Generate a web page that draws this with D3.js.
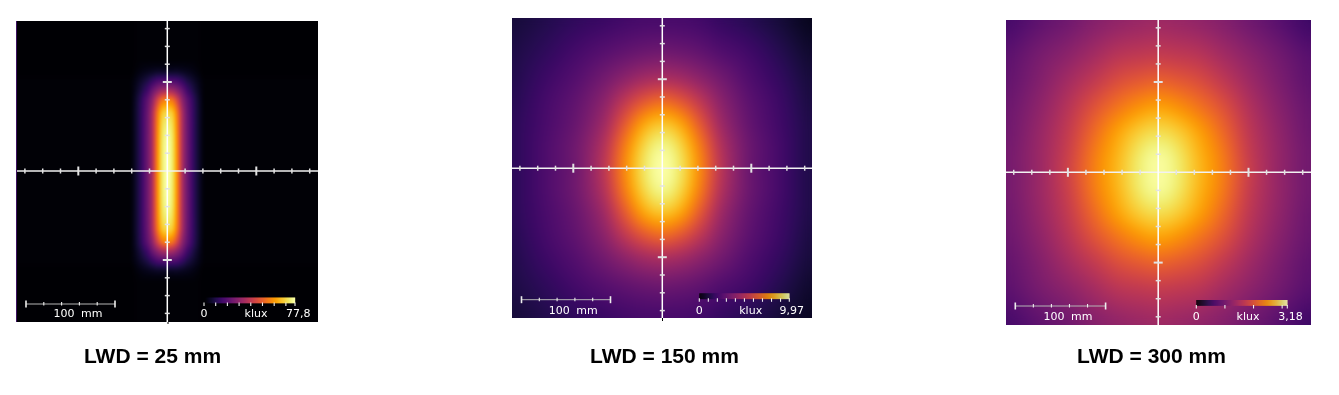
<!DOCTYPE html>
<html><head><meta charset="utf-8">
<script src="https://cdn.jsdelivr.net/npm/d3@7"></script>
<style>html,body{margin:0;padding:0;background:#fff;overflow:hidden}
#wrap{position:relative;width:1339px;height:395px}
canvas,svg{position:absolute;left:0;top:0}
</style></head><body><div id="wrap"><canvas id="c" width="1339" height="395"></canvas><svg id="s" width="1339" height="395"></svg></div>
<script>
// Illuminance maps, as a fraction of each panel's maximum.
const titles = ["LWD = 25 mm", "LWD = 150 mm", "LWD = 300 mm"];
const maxLabels = ["77,8", "9,97", "3,18"];
const maxKlux = [77.8, 9.97, 3.18];
const legendSteps = [10, 1, 1];
const axisTicksMm = [-160,-140,-120,-100,-80,-60,-40,-20,0,20,40,60,80,100,120,140,160];
const majorTicksMm = [-100,100];

const lwd25X = [-42,-31,-22,-17,-11,-6,0,6,11,17,22,31,42];
const lwd25Y = [-125,-112,-100,-90,-80,-65,-40,0,40,65,80,90,100,112,125];
const lwd25 = [
 [0,.01,.01,.01,.01,.01,.01,.01,.01,.01,.01,.01,0],
 [0,.03,.05,.06,.07,.07,.07,.07,.07,.06,.05,.03,0],
 [.01,.07,.13,.18,.23,.25,.26,.25,.23,.18,.13,.07,.01],
 [.01,.1,.2,.29,.38,.44,.46,.44,.38,.29,.2,.1,.01],
 [.01,.13,.27,.38,.56,.68,.72,.68,.56,.38,.27,.13,.01],
 [.01,.14,.3,.45,.7,.86,.9,.86,.7,.45,.3,.14,.01],
 [.01,.14,.31,.46,.74,.92,.98,.92,.74,.46,.31,.14,.01],
 [.01,.14,.31,.46,.75,.93,1,.93,.75,.46,.31,.14,.01],
 [.01,.14,.31,.46,.74,.92,.98,.92,.74,.46,.31,.14,.01],
 [.01,.14,.3,.45,.7,.86,.9,.86,.7,.45,.3,.14,.01],
 [.01,.13,.27,.38,.56,.68,.72,.68,.56,.38,.27,.13,.01],
 [.01,.1,.2,.29,.38,.44,.46,.44,.38,.29,.2,.1,.01],
 [.01,.07,.13,.18,.23,.25,.26,.25,.23,.18,.13,.07,.01],
 [0,.03,.05,.06,.07,.07,.07,.07,.07,.06,.05,.03,0],
 [0,.01,.01,.01,.01,.01,.01,.01,.01,.01,.01,.01,0]
];

const lwd150X = [-169,-130,-95,-65,-40,-20,0,20,40,65,95,130,169];
const lwd150Y = [-169,-130,-100,-75,-50,-25,0,25,50,75,100,130,169];
const lwd150 = [
 [.1,.13,.16,.18,.2,.21,.21,.21,.2,.17,.14,.1,.05],
 [.12,.16,.21,.25,.28,.3,.31,.3,.28,.24,.2,.14,.08],
 [.13,.19,.25,.32,.39,.44,.46,.44,.39,.32,.24,.17,.1],
 [.14,.21,.28,.38,.52,.62,.67,.62,.52,.38,.27,.19,.11],
 [.15,.22,.3,.43,.64,.8,.86,.8,.64,.43,.29,.2,.12],
 [.15,.23,.32,.48,.73,.9,.97,.9,.73,.48,.31,.21,.12],
 [.15,.23,.32,.5,.76,.93,1,.93,.76,.5,.31,.21,.12],
 [.15,.23,.32,.48,.73,.9,.97,.9,.73,.48,.31,.21,.12],
 [.15,.22,.3,.43,.64,.8,.86,.8,.64,.43,.29,.2,.12],
 [.14,.21,.28,.38,.52,.62,.67,.62,.52,.38,.27,.19,.11],
 [.13,.19,.25,.32,.39,.44,.46,.44,.39,.32,.24,.17,.1],
 [.12,.16,.21,.25,.28,.3,.31,.3,.28,.24,.2,.14,.08],
 [.1,.13,.16,.18,.2,.21,.21,.21,.2,.17,.14,.1,.06]
];

const lwd300X = [-169,-130,-100,-70,-45,-20,0,20,45,70,100,130,169];
const lwd300Y = [-169,-130,-100,-70,-45,-20,0,20,45,70,100,130,169];
const lwd300 = [
 [.21,.27,.31,.36,.39,.41,.42,.41,.39,.36,.31,.26,.19],
 [.26,.33,.38,.44,.49,.51,.52,.51,.49,.44,.38,.32,.25],
 [.28,.36,.44,.52,.59,.63,.65,.63,.59,.52,.43,.35,.27],
 [.3,.39,.49,.61,.7,.77,.8,.77,.7,.61,.48,.38,.29],
 [.31,.41,.52,.67,.79,.88,.91,.88,.79,.67,.51,.4,.3],
 [.32,.42,.54,.71,.83,.94,.98,.94,.83,.71,.53,.41,.31],
 [.32,.42,.55,.72,.84,.95,.99,.95,.84,.72,.54,.41,.31],
 [.32,.42,.54,.71,.83,.94,.98,.94,.83,.71,.53,.41,.31],
 [.31,.41,.52,.67,.79,.88,.91,.88,.79,.67,.51,.4,.3],
 [.3,.39,.49,.61,.7,.77,.8,.77,.7,.61,.48,.38,.29],
 [.28,.36,.44,.52,.59,.63,.65,.63,.59,.52,.43,.35,.27],
 [.26,.33,.38,.44,.49,.51,.52,.51,.49,.44,.38,.32,.25],
 [.21,.27,.31,.36,.39,.41,.42,.41,.39,.36,.31,.26,.19]
];

const mapsX = [lwd25X, lwd150X, lwd300X];
const mapsY = [lwd25Y, lwd150Y, lwd300Y];
const maps = [lwd25, lwd150, lwd300];

// Layout
const frames = [
 {x0:16,x1:318,y0:21,y1:322,cx:167.3,cy:171,ppm:.89,blur:1.2,bar:[26,304],lab:[78,317.3],leg:[204,297.5,91],klux:256,end:310.5,stub:[168,322,324]},
 {x0:512,x1:812,y0:18,y1:318,cx:662.3,cy:168.2,ppm:.89,blur:4,bar:[521.5,299.7],lab:[573.3,313.7],leg:[699.3,293.3,90],klux:750.7,end:804,stub:[662.5,318,321]},
 {x0:1006,x1:1311,y0:20,y1:325,cx:1158.2,cy:172.3,ppm:.903,blur:4,bar:[1015.3,306],lab:[1068,320.2],leg:[1196.3,300,91],klux:1248,end:1302.7,stub:[1157,325,325]}
];
const titlePos = [[152.5,363],[664.5,363.3],[1151.5,362.7]];

const ctx = document.getElementById("c").getContext("2d");
const svg = d3.select("#s");
const lut = d3.range(1025).map(i => d3.rgb(d3.interpolateInferno(i/1024)));

function cr(p0,p1,p2,p3,f){
  return .5*(2*p1+(p2-p0)*f+(2*p0-5*p1+4*p2-p3)*f*f+(3*p1-p0-3*p2+p3)*f*f*f);
}
function sample(g,u,v){
  const nr=g.length-1,nc=g[0].length-1;
  const j=Math.min(Math.floor(v),nr-1),i=Math.min(Math.floor(u),nc-1),fy=v-j,fx=u-i;
  const row=k=>{const r=g[Math.max(0,Math.min(nr,k))];
    return cr(r[Math.max(0,i-1)],r[i],r[Math.min(nc,i+1)],r[Math.min(nc,i+2)],fx);};
  return cr(row(j-1),row(j),row(j+1),row(j+2),fy);
}

frames.forEach((f,n)=>{
  const xPx = d3.scaleLinear().domain([-100,100]).range([f.cx-100*f.ppm,f.cx+100*f.ppm]);
  const yPx = d3.scaleLinear().domain([-100,100]).range([f.cy-100*f.ppm,f.cy+100*f.ppm]);
  const xs=mapsX[n], ys=mapsY[n];
  const xi=d3.scaleLinear().domain(xs).range(d3.range(xs.length)).clamp(true);
  const yi=d3.scaleLinear().domain(ys).range(d3.range(ys.length)).clamp(true);
  const colour=d3.scaleLinear().domain([0,maxKlux[n]]).range([0,1024]).clamp(true);
  const w=f.x1-f.x0,h=f.y1-f.y0;
  const off=document.createElement("canvas");off.width=w;off.height=h;
  const octx=off.getContext("2d"),img=octx.createImageData(w,h);
  for(let py=0;py<h;py++){const v=yi(yPx.invert(f.y0+py+.5));
    for(let px=0;px<w;px++){const u=xi(xPx.invert(f.x0+px+.5));
      const val=sample(maps[n],u,v)*maxKlux[n];
      const c=lut[Math.round(colour(val))],o=(py*w+px)*4;
      img.data[o]=c.r;img.data[o+1]=c.g;img.data[o+2]=c.b;img.data[o+3]=255;}}
  octx.putImageData(img,0,0);
  ctx.save();
  ctx.beginPath();ctx.rect(f.x0,f.y0,w,h);ctx.clip();
  ctx.drawImage(off,f.x0,f.y0);
  ctx.filter=`blur(${f.blur}px)`;
  ctx.drawImage(off,f.x0,f.y0);
  ctx.restore();

  // Colour legend
  const lx=d3.scaleLinear().domain([0,maxKlux[n]]).range([f.leg[0],f.leg[0]+f.leg[2]]);
  d3.range(f.leg[2]).forEach(i=>{
    ctx.fillStyle=d3.interpolateInferno(i/(f.leg[2]-1));
    ctx.fillRect(f.leg[0]+i,f.leg[1],1.2,5.8);
  });

  const g=svg.append("g");
  const tickW="#e2e2e2";
  // Axes
  g.append("line").attr("x1",f.x0).attr("x2",f.x1).attr("y1",f.cy).attr("y2",f.cy).attr("stroke","#f2f2f2").attr("stroke-width",1.5);
  g.append("line").attr("x1",f.cx).attr("x2",f.cx).attr("y1",f.y0).attr("y2",f.y1).attr("stroke","#fff").attr("stroke-width",1.5);
  g.append("line").attr("x1",f.stub[0]).attr("x2",f.stub[0]).attr("y1",f.stub[1]).attr("y2",f.stub[2]).attr("stroke","#000");
  const isMajor=d=>majorTicksMm.includes(d);
  const tks=axisTicksMm.filter(d=>d!==0);
  g.selectAll(".tx").data(tks).join("line").attr("x1",xPx).attr("x2",xPx)
    .attr("y1",d=>f.cy-(isMajor(d)?4.5:2.5)).attr("y2",d=>f.cy+(isMajor(d)?4.5:2.5))
    .attr("stroke",tickW).attr("stroke-width",d=>isMajor(d)?2:1.5);
  g.selectAll(".ty").data(tks).join("line").attr("y1",yPx).attr("y2",yPx)
    .attr("x1",d=>f.cx-(isMajor(d)?4.5:2.5)).attr("x2",d=>f.cx+(isMajor(d)?4.5:2.5))
    .attr("stroke",tickW).attr("stroke-width",d=>isMajor(d)?2:1.5);
  // Scale bar
  const barTicks=[0,20,40,60,80,100];
  const bx=d3.scaleLinear().domain([0,100]).range([f.bar[0],f.bar[0]+100*f.ppm]);
  g.append("line").attr("x1",bx(0)).attr("x2",bx(100)).attr("y1",f.bar[1]).attr("y2",f.bar[1]).attr("stroke","#b5b5b5").attr("stroke-width",1);
  g.selectAll(".bt").data(barTicks).join("line").attr("x1",bx).attr("x2",bx)
    .attr("y1",d=>f.bar[1]-((d===0||d===100)?3.5:2)).attr("y2",d=>f.bar[1]+((d===0||d===100)?3.5:1.5))
    .attr("stroke","#eee").attr("stroke-width",d=>(d===0||d===100)?1.6:1.1);
  const txt=(x,y,s,anchor)=>g.append("text").attr("x",x).attr("y",y).attr("text-anchor",anchor)
    .attr("font-family","'DejaVu Sans',sans-serif").attr("font-size",11).attr("fill","#fff")
    .attr("word-spacing",3).text(s);
  txt(f.lab[0],f.lab[1],"100 mm","middle");
  // Legend ticks
  const legTicks=d3.range(0,maxKlux[n],legendSteps[n]).concat([maxKlux[n]]);
  g.selectAll(".lt").data(legTicks).join("line").attr("x1",lx).attr("x2",lx)
    .attr("y1",f.leg[1]+5).attr("y2",f.leg[1]+8.5).attr("stroke","#eee").attr("stroke-width",1.1);
  txt(lx(0),f.lab[1],"0","middle");
  txt(f.klux,f.lab[1],"klux","middle");
  txt(f.end,f.lab[1],maxLabels[n],"end");
  // Title
  svg.append("text").attr("x",titlePos[n][0]).attr("y",titlePos[n][1]).attr("text-anchor","middle")
    .attr("font-family","'Liberation Sans',Arial,sans-serif").attr("font-weight","bold").attr("font-size",21)
    .attr("fill","#000").text(titles[n]);
});
// thin coloured edge along the first panel's left side
svg.append("line").attr("x1",16.5).attr("x2",16.5).attr("y1",21).attr("y2",322).attr("stroke","#3d1160").attr("stroke-width",1);
</script></body></html>
